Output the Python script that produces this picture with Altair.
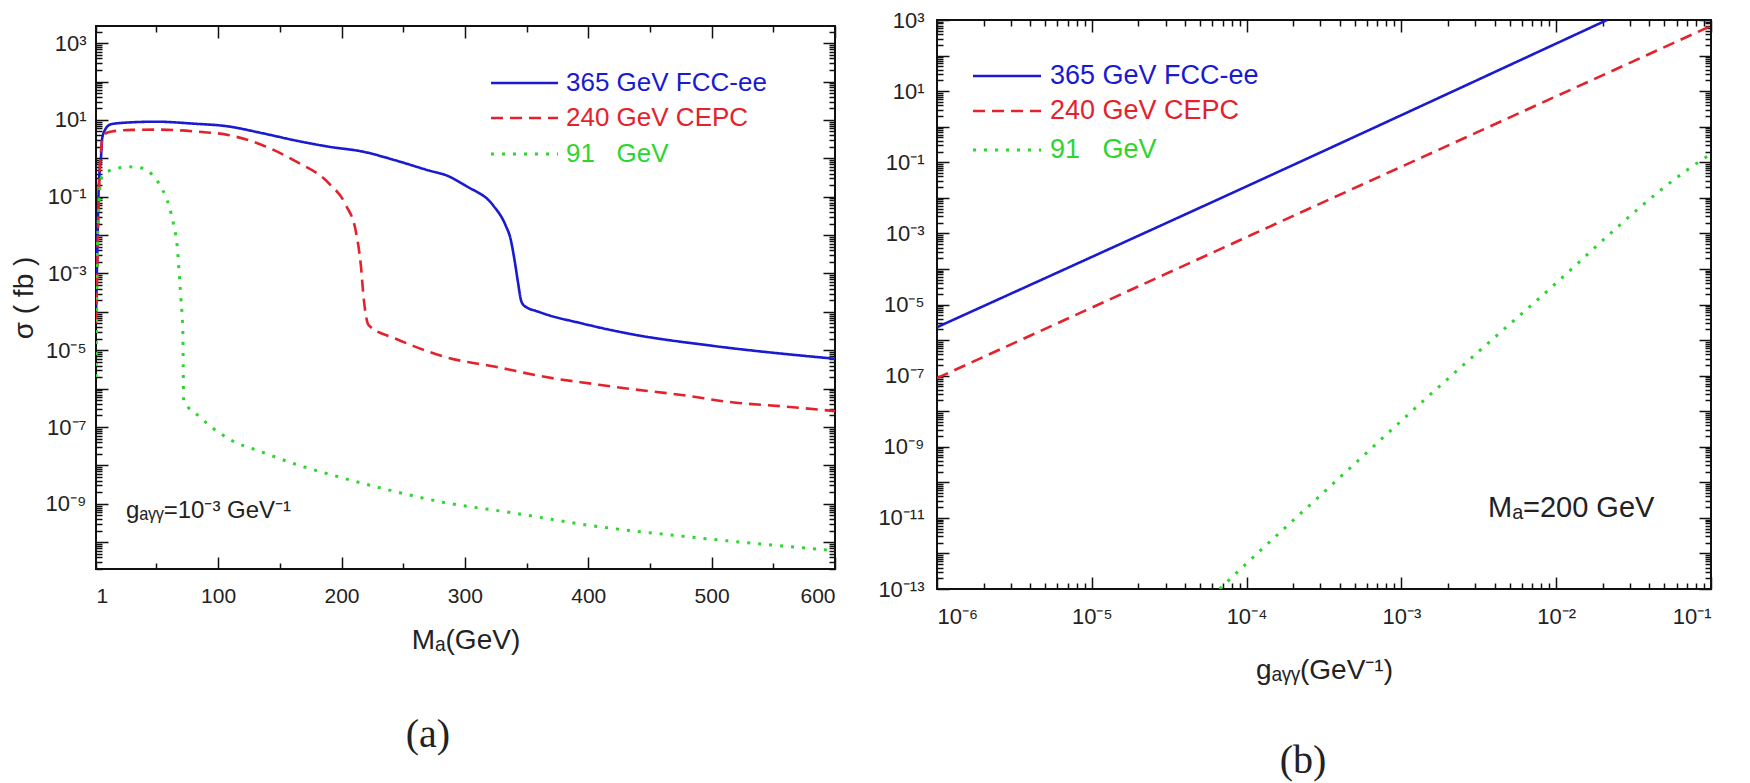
import altair as alt
import pandas as pd

# ---------------- data ----------------
SERIES = ["365 GeV FCC-ee", "240 GeV CEPC", "91 GeV"]
LEGEND_TEXT = ["365 GeV FCC-ee", "240 GeV CEPC", "91\u00a0\u00a0\u00a0GeV"]
COLORS = ["#1a1ad0", "#e4222c", "#2fd52f"]
DASHES = [[1, 0], [12, 7], [3, 8]]
WIDTHS = [2.6, 2.6, 3.0]

# panel (a): sigma (fb) vs M_a (GeV), g = 1e-3 GeV^-1
a_m_365 = [1, 2, 3, 4, 5, 6, 9, 13, 25, 50, 80, 108, 136, 163, 190, 217, 244, 271, 285,
           301, 323, 333, 337, 340, 343, 345.5, 348, 360, 396, 433, 501, 600]
a_s_365 = [8e-5, 3e-3, 0.1, 0.5, 1.0, 3.3, 6.0, 7.7, 8.5, 9.0, 8.0, 6.8, 4.5, 2.9, 2.0, 1.5,
           0.88, 0.48, 0.36, 0.19, 0.059, 0.018, 0.008, 0.0025, 6e-4, 2e-4, 1.45e-4, 1e-4,
           4.9e-5, 2.7e-5, 1.3e-5, 6e-6]
a_m_240 = [1, 2, 3, 4, 5, 6, 9, 14, 30, 50, 82, 109, 136, 163, 190, 203.6, 211.7, 215.7,
           218, 222, 244, 258, 284.6, 325, 365.7, 406, 422, 479, 514, 560, 600]
a_s_240 = [5e-5, 1e-3, 0.05, 0.5, 1.5, 3.0, 4.5, 5.0, 5.5, 5.6, 5.0, 4.0, 2.2, 0.83, 0.22,
           0.06, 0.012, 1.6e-3, 2.2e-4, 4.5e-5, 2e-5, 1.3e-5, 6.6e-6, 3.7e-6, 2.0e-6,
           1.3e-6, 1.1e-6, 6.6e-7, 4.5e-7, 3.4e-7, 2.6e-7]
a_m_91 = [1, 1.5, 2, 3, 4, 6, 11.5, 27.7, 39, 47, 55, 60, 64, 67, 68, 69.8, 71.4, 71.7, 72,
          84.5, 108.8, 136, 163, 190, 233.5, 282, 335.6, 406, 479, 600]
a_s_91 = [2e-6, 1e-4, 2e-3, 0.03, 0.15, 0.35, 0.47, 0.6, 0.55, 0.36, 0.15, 0.06, 0.018,
          4.4e-3, 1.6e-3, 2.2e-4, 3e-5, 4e-6, 5e-7, 1.9e-7, 4.9e-8, 2.2e-8, 1.07e-8,
          5.9e-9, 2.5e-9, 1.1e-9, 6e-10, 2.6e-10, 1.4e-10, 6e-11]

# panel (b): sigma (fb) vs g (GeV^-1), M_a = 200 GeV
b_g_365 = [1e-6, 1e-4, 0.0213]
b_s_365 = [2.3e-6, 2.1e-2, 1e3]
b_g_240 = [1e-6, 1e-3, 0.1]
b_s_240 = [8.5e-8, 0.075, 680]
b_g_91 = [6.7e-5, 8.0e-5, 3.13e-4, 1.46e-3, 6.6e-3, 0.0955, 0.1]
b_s_91 = [1e-13, 2.1e-13, 5.1e-11, 2.4e-8, 8e-6, 0.15, 0.17]

A_X_LABELS = [1, 100, 200, 300, 400, 500, 600]
A_X_MINOR = [50, 150, 250, 350, 450, 550]
A_Y_EXPS = [3, 1, -1, -3, -5, -7, -9]
B_Y_EXPS = [3, 1, -1, -3, -5, -7, -9, -11, -13]
B_X_EXPS = [-6, -5, -4, -3, -2, -1]

A_NOTE = "g\u2090\u1d67\u1d67=10\u207b\u00b3 GeV\u207b\u00b9"
B_NOTE = "M\u2090=200 GeV"
A_XTITLE = "M\u2090(GeV)"
B_XTITLE = "g\u2090\u1d67\u1d67(GeV\u207b\u00b9)"
A_YTITLE = "\u03c3 ( fb )"
CAPTIONS = ["(a)", "(b)"]

# ---------------- helpers ----------------
FONT = "Liberation Sans"
TXT = "#222222"
SUP = str.maketrans("0123456789-", "\u2070\u00b9\u00b2\u00b3\u2074\u2075\u2076\u2077\u2078\u2079\u207b")


def pow_expr(exps):
    expr = "''"
    for e in exps:
        expr = f"round(log(datum.value)/LN10) == {e} ? '10{str(e).translate(SUP)}' : " + expr
    return expr


def log_vals(lo, hi, vmin, vmax):
    out = []
    for e in range(lo, hi + 1):
        for m in range(1, 10):
            v = float(f"{m}e{e}")
            if vmin * 0.999 <= v <= vmax * 1.001:
                out.append(v)
    return out


LOG_MAJOR = "abs(log(datum.value)/LN10 - round(log(datum.value)/LN10)) < 0.01"


def tick_axis(orient, offset, values, test):
    return alt.Axis(orient=orient, offset=offset, values=values, labels=False,
                    domain=False, grid=False, title=None, ticks=True,
                    tickColor="#111111", tickWidth=1.5,
                    tickSize={"condition": {"test": test, "value": 12}, "value": 6})


def long_df(xs, ys):
    rows = []
    for s, xv, yv in zip(SERIES, xs, ys):
        for a, b in zip(xv, yv):
            rows.append({"series": s, "x": a, "y": b})
    return pd.DataFrame(rows)


def panel(df, W, H, xscale, yscale, xlab_axis, ylab_axis, xticks, yticks, xtest, ytest,
          legend_x, legend_rows, legend_size, extras):
    axes = [
        (xlab_axis, ylab_axis),
        (tick_axis("top", -H, xticks, xtest), tick_axis("right", -W, yticks, ytest)),
        (tick_axis("bottom", -H, xticks, xtest), tick_axis("left", -W, yticks, ytest)),
    ]
    layers = []
    for i, s in enumerate(SERIES):
        xa, ya = axes[i]
        layers.append(
            alt.Chart(df).transform_filter(alt.datum.series == s)
            .mark_line(color=COLORS[i], strokeDash=DASHES[i], strokeWidth=WIDTHS[i],
                       interpolate="monotone", clip=True)
            .encode(x=alt.X("x:Q", scale=xscale, axis=xa),
                    y=alt.Y("y:Q", scale=yscale, axis=ya))
        )
    x0, x1, xt = legend_x
    for i, lab in enumerate(LEGEND_TEXT):
        ldf = pd.DataFrame({"label": [lab]})
        yy = legend_rows[i]
        layers.append(alt.Chart(ldf).mark_rule(color=COLORS[i], strokeDash=DASHES[i],
                                               strokeWidth=WIDTHS[i])
                      .encode(x=alt.value(x0), x2=alt.value(x1), y=alt.value(yy)))
        layers.append(alt.Chart(ldf).mark_text(align="left", baseline="middle", font=FONT,
                                               fontSize=legend_size, color=COLORS[i])
                      .encode(x=alt.value(xt), y=alt.value(yy), text="label:N"))
    layers.extend(extras)
    return alt.layer(*layers).resolve_axis(x="independent", y="independent").properties(
        width=W, height=H)


def text_layer(txt, x, y, size, font=FONT, color=TXT, align="left"):
    return alt.Chart(pd.DataFrame({"t": [txt]})).mark_text(
        align=align, baseline="middle", font=font, fontSize=size, color=color
    ).encode(x=alt.value(x), y=alt.value(y), text="t:N")


# ---------------- panel (a) ----------------
WA, HA = 739, 543
dfa = long_df([a_m_365, a_m_240, a_m_91], [a_s_365, a_s_240, a_s_91])
xs_a = alt.Scale(domain=[1, 600], nice=False, zero=False)
ys_a = alt.Scale(type="log", domain=[2e-11, 2.8e3], nice=False)
xlab_a = alt.Axis(orient="bottom", values=A_X_LABELS, ticks=False, domain=False, grid=False,
                  labelFont=FONT, labelFontSize=21, labelColor=TXT, labelPadding=16,
                  title=A_XTITLE, titleFont=FONT, titleFontSize=28, titleFontWeight="normal",
                  titleColor=TXT, titlePadding=20)
ylab_a = alt.Axis(orient="left", values=[float(f"1e{e}") for e in A_Y_EXPS], ticks=False,
                  domain=False, grid=False, labelExpr=pow_expr(A_Y_EXPS), labelOverlap=False,
                  labelFont=FONT, labelFontSize=22, labelColor=TXT, labelPadding=10,
                  title=A_YTITLE, titleFont=FONT, titleFontSize=28, titleFontWeight="normal",
                  titleColor=TXT, titlePadding=7)
xt_a = sorted(A_X_LABELS + A_X_MINOR)
yt_a = log_vals(-11, 3, 2e-11, 2.8e3)
extras_a = [
    text_layer(A_NOTE, 30, 485, 24),
    text_layer(CAPTIONS[0], 332, 709, 40, font="Liberation Serif", align="center"),
]
pa = panel(dfa, WA, HA, xs_a, ys_a, xlab_a, ylab_a, xt_a, yt_a,
           "datum.value % 100 == 0", LOG_MAJOR,
           (395, 462, 470), [57, 92, 128], 26, extras_a)

# small blank spacer that lowers panel (a) relative to panel (b)
spacer = alt.Chart(pd.DataFrame({"t": [0]})).mark_point(opacity=0).properties(
    width=10, height=1, view=alt.ViewBackground(strokeOpacity=0))
col_a = alt.vconcat(spacer, pa, spacing=0)

# ---------------- panel (b) ----------------
WB, HB = 774, 569
dfb = long_df([b_g_365, b_g_240, b_g_91], [b_s_365, b_s_240, b_s_91])
xs_b = alt.Scale(type="log", domain=[1e-6, 1e-1], nice=False)
ys_b = alt.Scale(type="log", domain=[1e-13, 1e3], nice=False)
xlab_b = alt.Axis(orient="bottom", values=[float(f"1e{e}") for e in B_X_EXPS], ticks=False,
                  domain=False, grid=False, labelExpr=pow_expr(B_X_EXPS), labelOverlap=False,
                  labelFont=FONT, labelFontSize=22, labelColor=TXT, labelPadding=17,
                  title=B_XTITLE, titleFont=FONT, titleFontSize=28, titleFontWeight="normal",
                  titleColor=TXT, titlePadding=29)
ylab_b = alt.Axis(orient="left", values=[float(f"1e{e}") for e in B_Y_EXPS], ticks=False,
                  domain=False, grid=False, labelExpr=pow_expr(B_Y_EXPS), labelOverlap=False,
                  labelFont=FONT, labelFontSize=22, labelColor=TXT, labelPadding=13,
                  title=None)
xt_b = log_vals(-6, -1, 1e-6, 1e-1)
yt_b = log_vals(-13, 3, 1e-13, 1e3)
extras_b = [
    text_layer(B_NOTE, 551, 488, 29),
    text_layer(CAPTIONS[1], 366, 741, 40, font="Liberation Serif", align="center"),
]
pb = panel(dfb, WB, HB, xs_b, ys_b, xlab_b, ylab_b, xt_b, yt_b, LOG_MAJOR, LOG_MAJOR,
           (36, 104, 113), [56, 91, 130], 27, extras_b)

chart = alt.hconcat(col_a, pb, spacing=39).properties(
    padding={"left": 1, "top": 0, "right": 0, "bottom": 0},
    background="white",
).configure_view(stroke="#111111", strokeWidth=2)

chart.save("out.html", embed_options={"renderer": "svg", "actions": False})
